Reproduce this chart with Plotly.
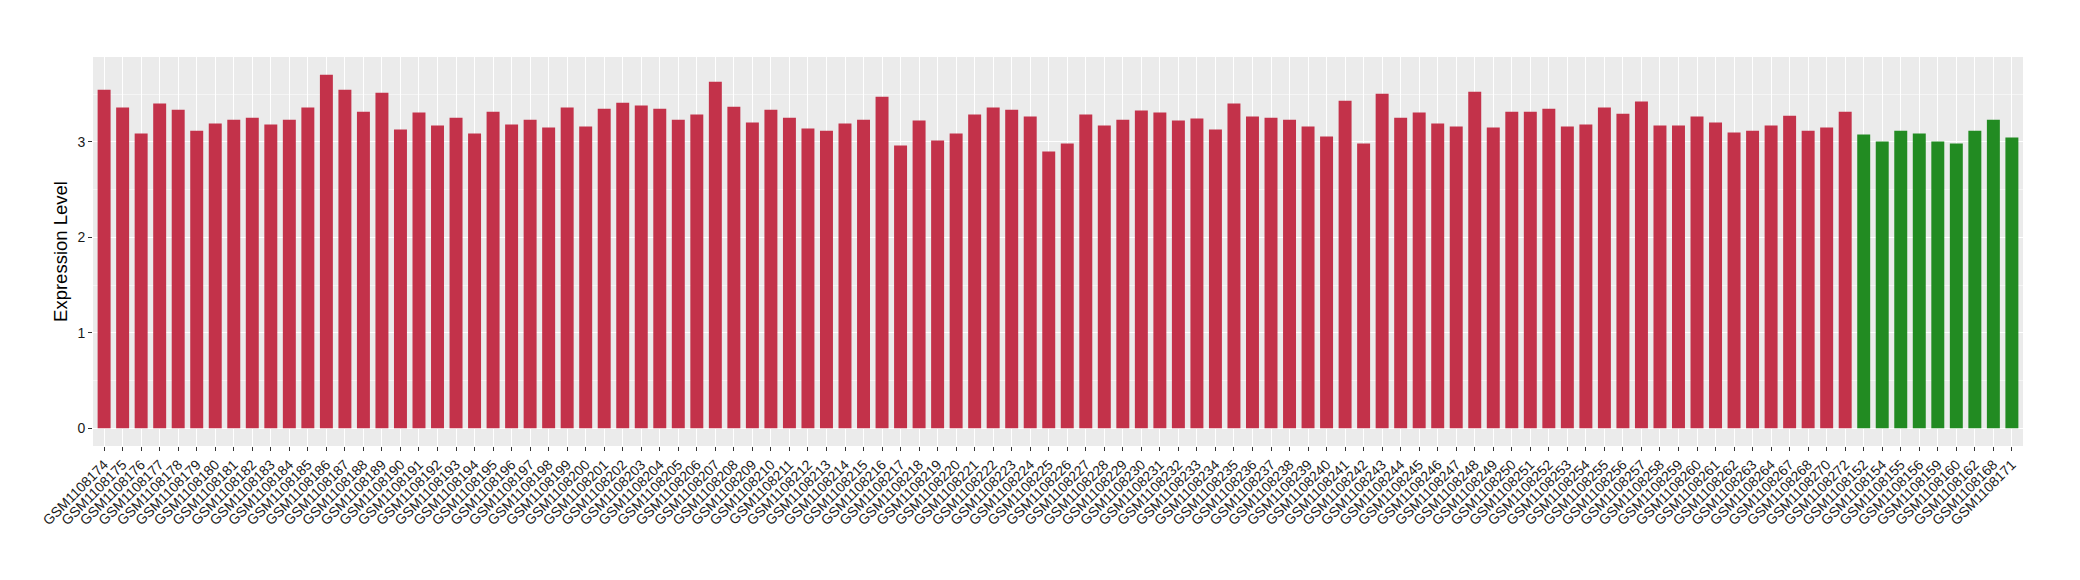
import plotly.graph_objects as go

samples_disease = [f"GSM1108{n}" for n in list(range(174, 265)) + [267, 268, 270, 272]]
samples_control = ["GSM1108152", "GSM1108154", "GSM1108155", "GSM1108156", "GSM1108159",
                   "GSM1108160", "GSM1108162", "GSM1108168", "GSM1108171"]

values_disease = [
    3.547, 3.359, 3.087, 3.401, 3.338, 3.118, 3.192, 3.233, 3.254, 3.181,
    3.233, 3.359, 3.704, 3.547, 3.317, 3.516, 3.129, 3.307, 3.171, 3.254,
    3.087, 3.317, 3.181, 3.233, 3.150, 3.359, 3.160, 3.348, 3.411, 3.380,
    3.348, 3.233, 3.286, 3.631, 3.369, 3.202, 3.338, 3.254, 3.139, 3.118,
    3.192, 3.233, 3.474, 2.962, 3.223, 3.014, 3.087, 3.286, 3.359, 3.338,
    3.265, 2.899, 2.983, 3.286, 3.171, 3.233, 3.328, 3.307, 3.223, 3.244,
    3.129, 3.401, 3.265, 3.254, 3.233, 3.160, 3.056, 3.432, 2.983, 3.505,
    3.254, 3.307, 3.192, 3.160, 3.526, 3.150, 3.317, 3.317, 3.348, 3.160,
    3.181, 3.359, 3.296, 3.422, 3.171, 3.171, 3.265, 3.202, 3.098, 3.118,
    3.171, 3.275, 3.118, 3.150, 3.317,
]
values_control = [3.077, 3.003, 3.118, 3.087, 3.003, 2.983, 3.118, 3.233, 3.045]

color_disease = "#C3324A"
color_control = "#228B22"

categories = samples_disease + samples_control
values = values_disease + values_control
colors = [color_disease] * len(samples_disease) + [color_control] * len(samples_control)

fig = go.Figure(
    go.Bar(
        x=categories,
        y=values,
        marker=dict(color=colors, line=dict(width=0)),
        width=0.7,
        showlegend=False,
    )
)

ymax = max(values)
fig.update_layout(
    width=2080,
    height=580,
    margin=dict(l=85, r=65, t=49, b=142),
    paper_bgcolor="white",
    plot_bgcolor="#EBEBEB",
    font=dict(family="Liberation Sans, Arial, sans-serif", color="#1A1A1A"),
    bargap=0.3,
)
fig.update_xaxes(
    type="category",
    categoryorder="array",
    categoryarray=categories,
    range=[-0.6, len(categories) - 0.4],
    tickangle=-45,
    tickfont=dict(size=14, color="#1A1A1A"),
    automargin=False,
    showgrid=True,
    gridcolor="white",
    gridwidth=1.1,
    ticks="outside",
    ticklen=4,
    tickcolor="#333333",
    tickwidth=1,
    zeroline=False,
    showline=False,
)
fig.update_yaxes(
    range=[-0.05 * ymax, ymax * 1.05],
    tickvals=[0, 1, 2, 3],
    ticktext=["0", "1", "2", "3"],
    tickfont=dict(size=14, color="#1A1A1A"),
    automargin=False,
    showgrid=True,
    gridcolor="white",
    gridwidth=1.1,
    minor=dict(tickvals=[0.5, 1.5, 2.5, 3.5], showgrid=True, gridcolor="#F5F5F5", gridwidth=0.6, ticks=""),
    ticks="outside",
    ticklen=4,
    tickcolor="#333333",
    tickwidth=1,
    zeroline=False,
    showline=False,
    title=dict(text="Expression Level", font=dict(size=18.5, color="#000000"), standoff=4),
)

fig.write_html("out.html")
